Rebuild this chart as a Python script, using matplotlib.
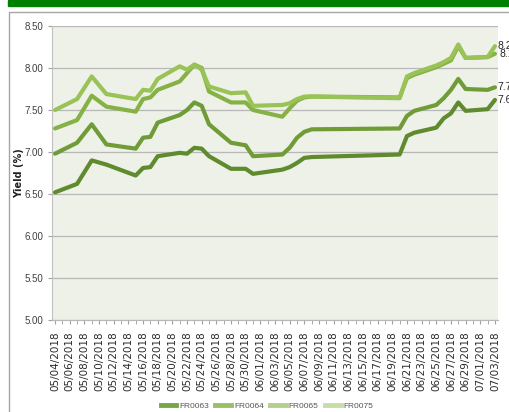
import numpy as np
import pandas as pd
import matplotlib
matplotlib.use("Agg")
import matplotlib.pyplot as plt
import matplotlib.dates as mdates
from matplotlib.lines import Line2D
from matplotlib.patches import Rectangle


# dates where the lines turn (trading days)
days = ["05/04", "05/07", "05/09", "05/11", "05/15", "05/16", "05/17", "05/18",
        "05/21", "05/22", "05/23", "05/24", "05/25", "05/28", "05/30", "05/31",
        "06/04", "06/05", "06/06", "06/07", "06/08", "06/20", "06/21", "06/22",
        "06/25", "06/26", "06/27", "06/28", "06/29", "07/02", "07/03"]

fr0063 = [6.52, 6.62, 6.90, 6.85, 6.72, 6.81, 6.82, 6.95, 6.99, 6.98, 7.05,
          7.04, 6.95, 6.80, 6.80, 6.74, 6.79, 6.82, 6.87, 6.93, 6.94, 6.97,
          7.19, 7.23, 7.29, 7.40, 7.46, 7.59, 7.49, 7.51, 7.62]
fr0064 = [6.98, 7.11, 7.33, 7.09, 7.04, 7.17, 7.18, 7.35, 7.44, 7.50, 7.59,
          7.55, 7.33, 7.11, 7.08, 6.95, 6.97, 7.05, 7.17, 7.24, 7.27, 7.28,
          7.43, 7.49, 7.56, 7.64, 7.74, 7.87, 7.75, 7.74, 7.77]
fr0065 = [7.28, 7.38, 7.67, 7.54, 7.48, 7.63, 7.65, 7.74, 7.84, 7.94, 8.04,
          8.00, 7.72, 7.59, 7.59, 7.50, 7.42, 7.52, 7.61, 7.65, 7.66, 7.65,
          7.88, 7.92, 8.01, 8.05, 8.09, 8.26, 8.12, 8.13, 8.17]
fr0075 = [7.50, 7.63, 7.90, 7.69, 7.63, 7.74, 7.73, 7.87, 8.02, 7.98, 8.04,
          7.98, 7.78, 7.70, 7.71, 7.55, 7.56, 7.58, 7.63, 7.66, 7.66, 7.64,
          7.90, 7.94, 8.03, 8.07, 8.12, 8.28, 8.12, 8.13, 8.26]

names = ["FR0063", "FR0064", "FR0065", "FR0075"]
series = [fr0063, fr0064, fr0065, fr0075]
line_colors = ["#5f8b2e", "#6f9c36", "#86b245", "#99c356"]
legend_colors = ["#78a646", "#98c064", "#b2d08b", "#c6dda8"]
label_dx = [1.5, 1.5, 3.5, 1.5]

y_ticks = [5.00, 5.50, 6.00, 6.50, 7.00, 7.50, 8.00, 8.50]

dates = pd.to_datetime([d + "/2018" for d in days], format="%m/%d/%Y")

narrow = ["Liberation Sans", "DejaVu Sans"]

fig = plt.figure(figsize=(5.1, 4.12), dpi=100)

# green band and grey frame around the chart
fig.patches.append(Rectangle((8 / 510, 1 - 6 / 412), 1.0, 6 / 412,
                             transform=fig.transFigure, color="#008000",
                             zorder=0))
fig.patches.append(Rectangle((9 / 510, -0.05), 1.1, 1 - 12 / 412 + 0.05,
                             transform=fig.transFigure, facecolor="none",
                             edgecolor="#a6a6a6", lw=1.0, zorder=0))

ax = fig.add_axes([52 / 510, 92 / 412, 446 / 510, 294 / 412])
ax.set_facecolor("#eef1e8")

for vals, c in zip(series, line_colors):
    ax.plot(dates, vals, color=c, lw=3.0, solid_joinstyle="round",
            solid_capstyle="round", zorder=3)

# value labels at the right end of each line
for vals, dx in zip(series, label_dx):
    ax.annotate("%.2f" % vals[-1], (dates[-1], vals[-1]),
                xytext=(dx, 0), textcoords="offset points",
                va="center", ha="left", fontsize=7.5, color="#222222",
                family=narrow, annotation_clip=False)

start = pd.Timestamp("2018-05-04")
end = pd.Timestamp("2018-07-03")
ax.set_xlim(start - pd.Timedelta(hours=10), end + pd.Timedelta(hours=10))
ax.set_ylim(5.0, 8.5)

ax.xaxis.set_minor_locator(mdates.DayLocator())
ax.xaxis.set_major_formatter(mdates.DateFormatter("%m/%d/%Y"))
ax.set_xticks(pd.date_range(start, end, freq="2D"))

ax.set_yticks(y_ticks)
ax.set_yticklabels(["%.2f" % v for v in y_ticks], family=narrow)
ax.yaxis.grid(True, color="#b8b8b8", lw=0.9)
ax.set_axisbelow(True)

ax.tick_params(axis="x", which="both", length=3, color="#a0a0a0",
               labelsize=7.5, labelcolor="#2a2a2a", pad=5,
               labelrotation=90)
ax.tick_params(axis="y", length=3, color="#a0a0a0", labelsize=7,
               labelcolor="#404040", pad=3)

for s in ["top", "right"]:
    ax.spines[s].set_visible(False)
ax.spines["left"].set_color("#c0c0c0")
ax.spines["bottom"].set_color("#b8b8b8")

fig.text(19.5 / 510, 0.58, "Yield (%)", rotation=90, fontsize=7,
         fontweight="bold", ha="center", va="center", color="#222222")

handles = [Line2D([], [], color=c, lw=3.5) for c in legend_colors]
fig.legend(handles, names, loc="center", ncol=4,
           bbox_to_anchor=(267 / 510, 6 / 412), frameon=False,
           prop={"family": narrow, "size": 6}, labelcolor="#555555",
           handlelength=1.9, handletextpad=0.35, columnspacing=0.75)

fig.savefig("out.png", dpi=100)
